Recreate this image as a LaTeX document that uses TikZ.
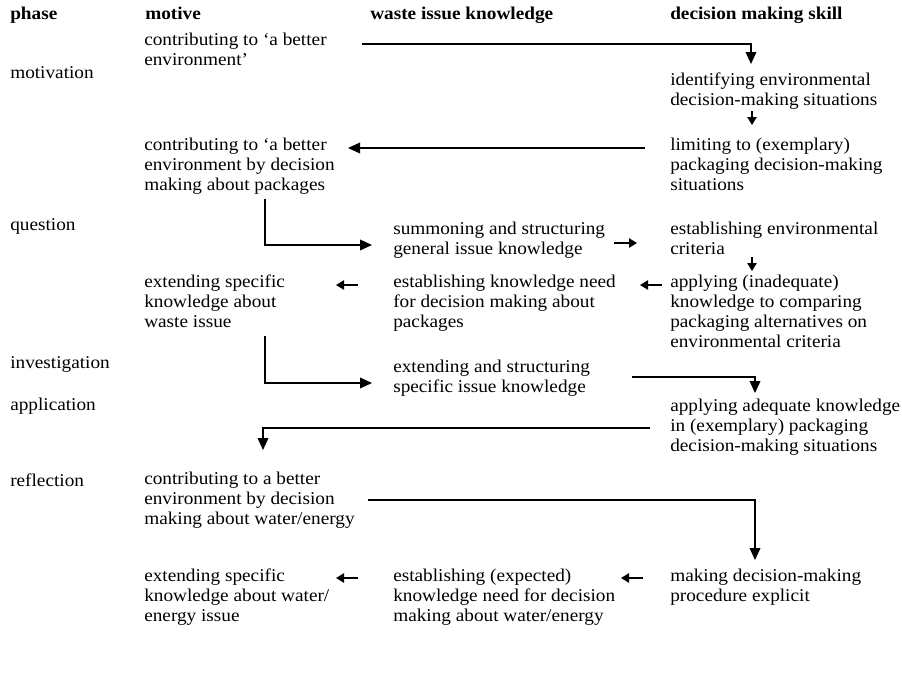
\documentclass[tikz,border=0pt]{standalone}
\usepackage{fontspec}
\setmainfont{Liberation Serif}[FakeStretch=1.07]
\usetikzlibrary{arrows.meta}
\begin{document}
\begin{tikzpicture}[x=0.75pt,y=-0.75pt,
  txt/.style={anchor=north west,align=left,inner sep=0pt,font=\fontsize{13.5}{15}\selectfont,execute at begin node=\strut},
  ph/.style={anchor=base west,inner sep=0pt,font=\fontsize{13.5}{15}\selectfont},
  hdr/.style={anchor=base west,inner sep=0pt,font=\fontsize{13.5}{15}\selectfont\bfseries},
  arr/.style={line width=1.1pt,-{Triangle[width=8pt,length=9pt]}},
  sarr/.style={line width=1.1pt,-{Triangle[width=7pt,length=6pt]}}]
\useasboundingbox (0,0) rectangle (902,683);
% headers
\node[hdr] (h1) at (10,19) {phase};
\node[hdr] (h2) at (145,19) {motive};
\node[hdr] (h3) at (370,19) {waste issue knowledge};
\node[hdr] (h4) at (670,19) {decision making skill};
% phases
\node[ph] (p1) at (10,78) {motivation};
\node[ph] (p2) at (10,230) {question};
\node[ph] (p3) at (10,368) {investigation};
\node[ph] (p4) at (10,410) {application};
\node[ph] (p5) at (10,486) {reflection};
% motive column
\node[txt] (m1) at (144,33) {contributing to ‘a better\\environment’};
\node[txt] (m2) at (144,138) {contributing to ‘a better\\environment by decision\\making about packages};
\node[txt] (m3) at (144,275) {extending specific\\knowledge about\\waste issue};
\node[txt] (m4) at (144,472) {contributing to a better\\environment by decision\\making about water/energy};
\node[txt] (m5) at (144,569) {extending specific\\knowledge about water/\\energy issue};
% waste column
\node[txt] (w1) at (393,222) {summoning and structuring\\general issue knowledge};
\node[txt] (w2) at (393,275) {establishing knowledge need\\for decision making about\\packages};
\node[txt] (w3) at (393,360) {extending and structuring\\specific issue knowledge};
\node[txt] (w4) at (393,569) {establishing (expected)\\knowledge need for decision\\making about water/energy};
% decision column
\node[txt] (d1) at (670,73) {identifying environmental\\decision-making situations};
\node[txt] (d2) at (670,138) {limiting to (exemplary)\\packaging decision-making\\situations};
\node[txt] (d3) at (670,222) {establishing environmental\\criteria};
\node[txt] (d4) at (670,275) {applying (inadequate)\\knowledge to comparing\\packaging alternatives on\\environmental criteria};
\node[txt] (d5) at (670,399) {applying adequate knowledge\\in (exemplary) packaging\\decision-making situations};
\node[txt] (d6) at (670,569) {making decision-making\\procedure explicit};
% connector ends
\coordinate (c1) at (362,44);
\coordinate (c1e) at (751,64);
\coordinate (c2) at (752,111);
\coordinate (c2e) at (752,125);
\coordinate (c3) at (645,148);
\coordinate (c3e) at (348,148);
\coordinate (c4) at (265,199);
\coordinate (c4e) at (372,245);
\coordinate (c5) at (614,243);
\coordinate (c5e) at (637,243);
\coordinate (c6) at (752,257);
\coordinate (c6e) at (752,271);
\coordinate (c7) at (662,285);
\coordinate (c7e) at (640,285);
\coordinate (c8) at (358,285);
\coordinate (c8e) at (336,285);
\coordinate (c9) at (265,336);
\coordinate (c9e) at (372,383);
\coordinate (c10) at (632,377);
\coordinate (c10e) at (755,393);
\coordinate (c11) at (650,428);
\coordinate (c11e) at (263,450);
\coordinate (c12) at (368,500);
\coordinate (c12e) at (755,560);
\coordinate (c13) at (643,578);
\coordinate (c13e) at (621,578);
\coordinate (c14) at (358,578);
\coordinate (c14e) at (336,578);
% connectors
\draw[arr] (c1) -| (c1e);
\draw[sarr] (c2) -- (c2e);
\draw[arr] (c3) -- (c3e);
\draw[arr] (c4) |- (c4e);
\draw[sarr] (c5) -- (c5e);
\draw[sarr] (c6) -- (c6e);
\draw[sarr] (c7) -- (c7e);
\draw[sarr] (c8) -- (c8e);
\draw[arr] (c9) |- (c9e);
\draw[arr] (c10) -| (c10e);
\draw[arr] (c11) -| (c11e);
\draw[arr] (c12) -| (c12e);
\draw[sarr] (c13) -- (c13e);
\draw[sarr] (c14) -- (c14e);
\end{tikzpicture}
\end{document}
